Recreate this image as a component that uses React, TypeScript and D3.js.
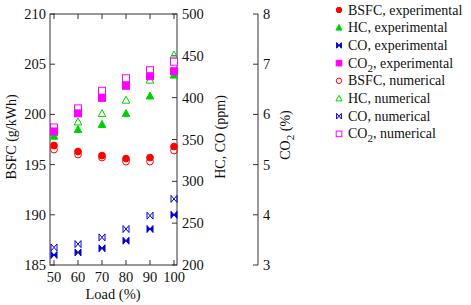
import * as d3 from 'd3';

// Engine load points (%)
const loads = [50, 60, 70, 80, 90, 100];

// BSFC (g/kWh), left axis
const bsfcExp = [196.9, 196.3, 195.9, 195.6, 195.7, 196.8];
const bsfcNum = [196.5, 196.0, 195.7, 195.3, 195.3, 196.4];

// HC and CO (ppm), right axis
const hcExp = [354, 362, 368, 381, 402, 427];
const hcNum = [358, 371, 381, 397, 421, 451];
const coExp = [212, 215, 220, 229, 243, 260];
const coNum = [221, 225, 233, 243, 259, 279];

// CO2 (%), outer axis
const co2Exp = [5.66, 6.02, 6.33, 6.57, 6.76, 6.86];
const co2Num = [5.74, 6.12, 6.47, 6.72, 6.88, 7.05];

const xTicks = [50, 60, 70, 80, 90, 100];
const bsfcTicks = [185, 190, 195, 200, 205, 210];
const ppmTicks = [200, 250, 300, 350, 400, 450, 500];
const co2Ticks = [3, 4, 5, 6, 7, 8];

const RED = '#ff0000';
const GREEN = '#00d000';
const BLUE = '#0000d0';
const MAGENTA = '#ff00ff';
const AXIS = '#333';
const FONT = "'Liberation Serif', 'Times New Roman', serif";

const W = 471;
const H = 305;
const plot = { left: 50, right: 177, top: 14, bottom: 265 };

const x = d3.scaleLinear().domain([48.33, 101.25]).range([plot.left, plot.right]);
const yBsfc = d3.scaleLinear().domain([185, 210]).range([plot.bottom, plot.top]);
const yPpm = d3.scaleLinear().domain([200, 500]).range([plot.bottom, plot.top]);
const yCo2 = d3.scaleLinear().domain([3, 8]).range([plot.bottom, plot.top]);
const co2AxisX = 258;

type Shape = 'circle' | 'triangle' | 'bowtie' | 'square';

function Marker({ shape, cx, cy, color, filled, k = 1 }: { shape: Shape; cx: number; cy: number; color: string; filled: boolean; k?: number }) {
  const fill = filled ? color : 'white';
  const fillOpacity = filled ? 1 : 0;
  const common = { stroke: color, strokeWidth: 1, fill, fillOpacity };
  if (shape === 'circle') return <circle cx={cx} cy={cy} r={3.4 * k} {...common} />;
  if (shape === 'square')
    return <rect x={cx - 3.5 * k} y={cy - 3.5 * k} width={7 * k} height={7 * k} {...common} fillOpacity={1} />;
  if (shape === 'triangle') {
    const p = d3.path();
    p.moveTo(cx, cy - 4 * k);
    p.lineTo(cx + 3.8 * k, cy + 3 * k);
    p.lineTo(cx - 3.8 * k, cy + 3 * k);
    p.closePath();
    return <path d={p.toString()} {...common} />;
  }
  const p = d3.path();
  p.moveTo(cx - 3 * k, cy - 3.5 * k);
  p.lineTo(cx, cy);
  p.lineTo(cx - 3 * k, cy + 3.5 * k);
  p.closePath();
  p.moveTo(cx + 3 * k, cy - 3.5 * k);
  p.lineTo(cx, cy);
  p.lineTo(cx + 3 * k, cy + 3.5 * k);
  p.closePath();
  return <path d={p.toString()} {...common} />;
}

const series: { label: string; sub?: boolean; tail: string; shape: Shape; color: string; filled: boolean; values: number[]; y: d3.ScaleLinear<number, number> }[] = [
  { label: 'BSFC', tail: ', experimental', shape: 'circle', color: RED, filled: true, values: bsfcExp, y: yBsfc },
  { label: 'HC', tail: ', experimental', shape: 'triangle', color: GREEN, filled: true, values: hcExp, y: yPpm },
  { label: 'CO', tail: ', experimental', shape: 'bowtie', color: BLUE, filled: true, values: coExp, y: yPpm },
  { label: 'CO', sub: true, tail: ', experimental', shape: 'square', color: MAGENTA, filled: true, values: co2Exp, y: yCo2 },
  { label: 'BSFC', tail: ', numerical', shape: 'circle', color: RED, filled: false, values: bsfcNum, y: yBsfc },
  { label: 'HC', tail: ', numerical', shape: 'triangle', color: GREEN, filled: false, values: hcNum, y: yPpm },
  { label: 'CO', tail: ', numerical', shape: 'bowtie', color: BLUE, filled: false, values: coNum, y: yPpm },
  { label: 'CO', sub: true, tail: ', numerical', shape: 'square', color: MAGENTA, filled: false, values: co2Num, y: yCo2 },
];

// numerical first, experimental on top, grouped by quantity
const drawOrder = [4, 0, 5, 1, 6, 2, 7, 3];

const txt = { fill: '#111', style: { fontFamily: FONT } };

export default function App() {
  return (
    <svg width={W} height={H} style={{ position: 'absolute', left: 0, top: 0, background: 'white', fontFamily: FONT }}>
      {/* frame */}
      <rect x={plot.left} y={plot.top} width={plot.right - plot.left} height={plot.bottom - plot.top} fill="none" stroke={AXIS} strokeWidth={1} />

      {/* x ticks top & bottom, inward */}
      {xTicks.map(t => (
        <g key={'x' + t}>
          <line x1={x(t)} x2={x(t)} y1={plot.top} y2={plot.top + 5} stroke={AXIS} />
          <line x1={x(t)} x2={x(t)} y1={plot.bottom} y2={plot.bottom - 5} stroke={AXIS} />
          <text x={x(t)} y={plot.bottom + 17} fontSize={14.5} textAnchor="middle" {...txt}>{t}</text>
        </g>
      ))}

      {/* left axis */}
      {bsfcTicks.map(t => (
        <g key={'b' + t}>
          <line x1={plot.left} x2={plot.left + 5} y1={yBsfc(t)} y2={yBsfc(t)} stroke={AXIS} />
          <text x={plot.left - 4} y={yBsfc(t) + 5} fontSize={14.5} textAnchor="end" {...txt}>{t}</text>
        </g>
      ))}

      {/* right axis (ppm) */}
      {ppmTicks.map(t => (
        <g key={'p' + t}>
          <line x1={plot.right} x2={plot.right - 5} y1={yPpm(t)} y2={yPpm(t)} stroke={AXIS} />
          <text x={plot.right + 5} y={yPpm(t) + 5} fontSize={14.5} textAnchor="start" {...txt}>{t}</text>
        </g>
      ))}

      {/* CO2 axis */}
      <line x1={co2AxisX} x2={co2AxisX} y1={yCo2(8)} y2={yCo2(3)} stroke={AXIS} />
      {co2Ticks.map(t => (
        <g key={'c' + t}>
          <line x1={co2AxisX - 5} x2={co2AxisX} y1={yCo2(t)} y2={yCo2(t)} stroke={AXIS} />
          <text x={co2AxisX + 5} y={yCo2(t) + 5} fontSize={14.5} textAnchor="start" {...txt}>{t}</text>
        </g>
      ))}

      {/* axis titles */}
      <text transform="translate(16,137) rotate(-90)" fontSize={14} textAnchor="middle" {...txt}>BSFC (g/kWh)</text>
      <text transform="translate(225,137) rotate(-90)" fontSize={14} textAnchor="middle" {...txt}>HC, CO (ppm)</text>
      <text transform="translate(290,135) rotate(-90)" fontSize={14} textAnchor="middle" {...txt}>
        CO<tspan dy={4} fontSize={11}>2</tspan><tspan dy={-4}> (%)</tspan>
      </text>
      <text x={113} y={299} fontSize={14.5} textAnchor="middle" {...txt}>Load (%)</text>

      {/* data */}
      {drawOrder.map(i => {
        const s = series[i];
        return (
          <g key={'s' + i}>
            {s.values.map((v, j) => (
              <Marker key={j} shape={s.shape} cx={x(loads[j])} cy={s.y(v)} color={s.color} filled={s.filled} />
            ))}
          </g>
        );
      })}

      {/* legend */}
      {series.map((s, i) => {
        const ly = 10 + i * 17.7;
        return (
          <g key={'l' + i}>
            <Marker shape={s.shape} cx={339} cy={ly} color={s.color} filled={s.filled} k={0.8} />
            <text x={348} y={ly + 4.5} fontSize={14} {...txt}>
              {s.label}
              {s.sub ? <tspan dy={4} fontSize={11}>2</tspan> : null}
              {s.sub ? <tspan dy={-4}>{s.tail}</tspan> : s.tail}
            </text>
          </g>
        );
      })}
    </svg>
  );
}
